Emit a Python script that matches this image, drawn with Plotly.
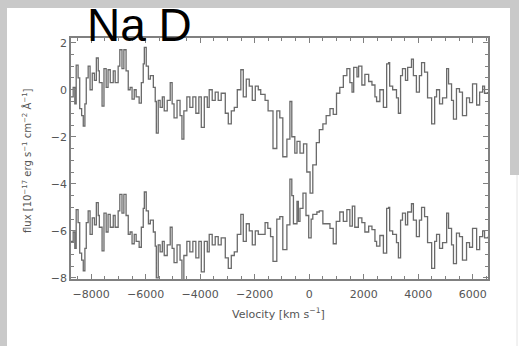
import plotly.graph_objects as go

# Upper spectrum (observed flux), velocity in km/s
vel_top = [-8740, -8660, -8600, -8550, -8480, -8420, -8350, -8290, -8230, -8180,
           -8110, -8040, -7960, -7880, -7810, -7740, -7700, -7600, -7530, -7450,
           -7380, -7300, -7190, -7120, -7010, -6950, -6870, -6800, -6720, -6640,
           -6570, -6500, -6420, -6350, -6240, -6160, -6090, -6050, -5980, -5900,
           -5830, -5720, -5650, -5610, -5540, -5470, -5390, -5320, -5210, -5100,
           -5030, -4960, -4850, -4740, -4670, -4600, -4490, -4380, -4270, -4160,
           -4050, -3960, -3850, -3740, -3670, -3560, -3450, -3340, -3230, -3080,
           -2970, -2860, -2750, -2640, -2510, -2420, -2310, -2200, -2090, -1980,
           -1870, -1780, -1620, -1510, -1330, -1190, -1080, -970, -820, -710,
           -640, -530, -450, -340, -210, -90, 30, 130, 260, 370,
           500, 620, 760, 880, 1000, 1120, 1250, 1380, 1490, 1570,
           1630, 1750, 1810, 1930, 2040, 2180, 2300, 2410, 2470, 2590,
           2720, 2840, 2910, 2950, 3060, 3200, 3270, 3350, 3420, 3530,
           3610, 3750, 3820, 3930, 4040, 4120, 4230, 4340, 4490, 4600,
           4670, 4780, 4890, 5040, 5110, 5220, 5290, 5400, 5510, 5620,
           5770, 5880, 5990, 6140, 6250, 6360, 6430, 6550]
flux_top = [-0.3, 0.1, -0.6, 1.05, 0.5, -0.8, -1.1, -1.55, -0.6, 0.5,
            1.0, 0.0, 0.7, 0.4, 1.35, 0.8, 0.3, -0.7, 0.9, 0.1,
            0.85, 0.3, 0.8, 0.3, 1.0, 1.7, 0.9, 1.7, 0.8, 0.0,
            0.1, -0.4, 0.0, -0.3, -0.57, 0.3, 1.1, 1.8, 1.0, 0.45,
            0.6, 0.1, -0.5, -1.85, -0.45, -0.75, -0.3, -0.9, -0.45, 0.3,
            -0.6, -1.2, -0.45, -1.1, -2.1, -0.9, -0.3, -0.75, -0.3, -1.0,
            -0.3, -1.6, -0.3, -0.75, 0.0, -0.45, -0.1, -0.45, -0.15, -1.0,
            -1.45, -0.9, -0.75, 0.0, 0.85, -0.3, 0.45, 0.15, -0.45, 0.15,
            0.0, -0.2, -0.45, -0.9, -2.5, -0.9, -1.2, -2.85, -2.1, -0.5,
            -2.0, -2.7, -2.2, -2.7, -2.3, -3.5, -4.4, -3.2, -2.25, -1.7,
            -1.45, -1.1, -0.8, -1.05, -0.15, 0.1, 0.6, 0.9, 0.3, -0.1,
            0.95, 0.55, 1.0, 0.2, 0.65, 0.35, 0.2, -0.3, -0.5, 0.0,
            -0.75, 1.1, 1.15, 0.15, 0.0, -0.35, -1.0, 0.6, 0.9, 0.4,
            0.95, 1.3, 0.6, -0.1, 0.6, 1.15, 0.75, -0.35, -1.45, -0.3,
            0.0, -0.6, -0.35, 0.9, 0.25, -0.45, -1.25, 0.05, -0.1, -1.1,
            -0.35, -0.55, 0.25, -0.65, -0.1, 0.15, -0.15, -0.1]

# Lower spectrum (residual, offset), velocity in km/s
vel_bot = [-8740, -8660, -8600, -8550, -8480, -8420, -8350, -8290, -8230, -8180,
           -8110, -8040, -7960, -7880, -7810, -7740, -7700, -7600, -7530, -7450,
           -7380, -7300, -7190, -7120, -7010, -6950, -6870, -6800, -6720, -6640,
           -6570, -6500, -6420, -6350, -6240, -6160, -6090, -6050, -5980, -5900,
           -5830, -5720, -5650, -5610, -5540, -5470, -5390, -5320, -5210, -5100,
           -5030, -4960, -4850, -4740, -4670, -4600, -4490, -4380, -4270, -4160,
           -4050, -3960, -3850, -3740, -3670, -3560, -3450, -3340, -3230, -3080,
           -2970, -2860, -2750, -2640, -2510, -2420, -2310, -2200, -2090, -1980,
           -1870, -1620, -1520, -1420, -1330, -1190, -1080, -970, -820, -710,
           -640, -580, -450, -400, -340, -230, -120, -20, 70, 130,
           280, 370, 500, 620, 760, 880, 990, 1120, 1250, 1380,
           1490, 1580, 1670, 1800, 1930, 2040, 2180, 2300, 2410, 2470,
           2590, 2720, 2840, 2910, 2950, 3060, 3200, 3270, 3350, 3420,
           3530, 3610, 3750, 3820, 3930, 4040, 4120, 4230, 4340, 4490,
           4600, 4670, 4780, 4890, 5040, 5110, 5220, 5290, 5400, 5510,
           5620, 5770, 5880, 5990, 6140, 6250, 6360, 6430, 6550]
flux_bot = [-6.45, -6.05, -6.75, -5.1, -5.65, -6.95, -7.25, -7.7, -6.75, -5.65,
            -5.15, -6.15, -5.45, -5.75, -4.8, -5.35, -5.85, -6.85, -5.25, -6.05,
            -5.3, -5.85, -5.35, -5.85, -5.15, -4.45, -5.25, -4.45, -5.35, -6.15,
            -6.05, -6.55, -6.15, -6.45, -6.7, -5.85, -5.05, -4.35, -5.15, -5.7,
            -5.55, -6.05, -6.65, -8.0, -6.6, -6.9, -6.45, -7.05, -6.6, -5.85,
            -6.75, -7.35, -6.6, -7.25, -8.25, -7.05, -6.45, -6.9, -6.45, -7.15,
            -6.45, -7.75, -6.45, -6.9, -6.15, -6.6, -6.25, -6.6, -6.3, -7.15,
            -7.6, -7.05, -6.9, -6.15, -5.3, -6.45, -5.7, -6.0, -6.6, -6.0,
            -6.15, -5.65, -5.9, -6.25, -7.3, -5.5, -5.4, -6.8, -5.75, -3.8,
            -4.5, -5.7, -4.75, -5.6, -5.05, -4.4, -5.35, -6.3, -5.5, -5.3,
            -5.2, -5.15, -5.7, -5.7, -5.9, -6.55, -5.6, -5.2, -5.6, -5.1,
            -5.8, -4.95, -5.85, -5.45, -5.65, -6.05, -5.8, -5.95, -6.45, -6.65,
            -6.2, -6.95, -5.05, -5.0, -6.0, -6.15, -6.5, -7.15, -5.55, -5.25,
            -5.75, -5.2, -4.85, -5.55, -6.25, -5.55, -5.0, -5.4, -6.5, -7.6,
            -6.45, -6.15, -6.75, -6.5, -5.25, -5.9, -6.6, -7.4, -6.1, -6.25,
            -7.25, -6.5, -6.7, -5.9, -6.8, -6.25, -6.0, -6.3, -6.25]

x_ticks = [-8000, -6000, -4000, -2000, 0, 2000, 4000, 6000]
y_ticks = [-8, -6, -4, -2, 0, 2]

W, H = 519, 346
L, R, T, B = 71, 31, 38, 67
pw, ph = W - L - R, H - T - B

def px(xp):
    return (xp - L) / pw

def py(yp):
    return (H - B - yp) / ph

line_col = "#6a6a6a"
fig = go.Figure()
fig.add_trace(go.Scatter(x=vel_top, y=flux_top, mode="lines", line_shape="hv",
                         line=dict(color=line_col, width=1.3), showlegend=False))
fig.add_trace(go.Scatter(x=vel_bot, y=flux_bot, mode="lines", line_shape="hv",
                         line=dict(color=line_col, width=1.3), showlegend=False))

axcol = "#808080"
tickfont = dict(family="DejaVu Sans", size=11, color="#555555")
fig.update_xaxes(range=[-8740, 6557], tickvals=x_ticks, showgrid=False, zeroline=False,
                 showline=True, linecolor=axcol, linewidth=1.5, mirror="ticks",
                 ticks="inside", ticklen=5, tickcolor=axcol, tickwidth=1,
                 minor=dict(dtick=500, ticks="inside", ticklen=3, tickcolor=axcol, tickwidth=1),
                 tickfont=tickfont, ticklabelstandoff=4)
fig.update_yaxes(range=[-8.05, 2.2], tickvals=y_ticks, showgrid=False, zeroline=False,
                 showline=True, linecolor=axcol, linewidth=1.5, mirror="ticks",
                 ticks="inside", ticklen=5, tickcolor=axcol, tickwidth=1,
                 minor=dict(dtick=0.5, ticks="inside", ticklen=3, tickcolor=axcol, tickwidth=1),
                 tickfont=tickfont)

# gray frame strips (left, top, upper right) around the white page
strip = dict(type="rect", xref="paper", yref="paper", fillcolor="#c9c9c9",
             line=dict(width=0), layer="below")
fig.add_shape(**strip, x0=px(0), x1=px(7), y0=py(346), y1=py(0))
fig.add_shape(**strip, x0=px(0), x1=px(519), y0=py(8), y1=py(0))
fig.add_shape(**strip, x0=px(510), x1=px(519), y0=py(175), y1=py(0))
fig.add_shape(type="line", xref="paper", yref="paper", x0=px(517), x1=px(517),
              y0=py(346), y1=py(175), line=dict(color="#e4e4e4", width=1), layer="below")

fig.add_annotation(text="Na D", xref="paper", yref="paper", x=px(139), y=py(25),
                   xanchor="center", yanchor="middle", showarrow=False, height=46,
                   font=dict(family="Liberation Sans, Arial", size=46, color="black"))
fig.add_annotation(text="flux [10<sup>−17</sup> erg s<sup>−1</sup> cm<sup>−2</sup> Å<sup>−1</sup>]",
                   xref="paper", yref="paper", x=px(27), y=py(161), textangle=-90,
                   xanchor="center", yanchor="middle", showarrow=False,
                   font=dict(family="DejaVu Sans", size=10, color="#555555"))
fig.add_annotation(text="Velocity [km s<sup>−1</sup>]", xref="paper", yref="paper",
                   x=px(278), y=py(313), xanchor="center", yanchor="middle", showarrow=False,
                   font=dict(family="DejaVu Sans", size=11, color="#555555"))

fig.update_layout(width=W, height=H, margin=dict(l=L, r=R, t=T, b=B),
                  paper_bgcolor="white", plot_bgcolor="white")
fig.write_html("out.html")
